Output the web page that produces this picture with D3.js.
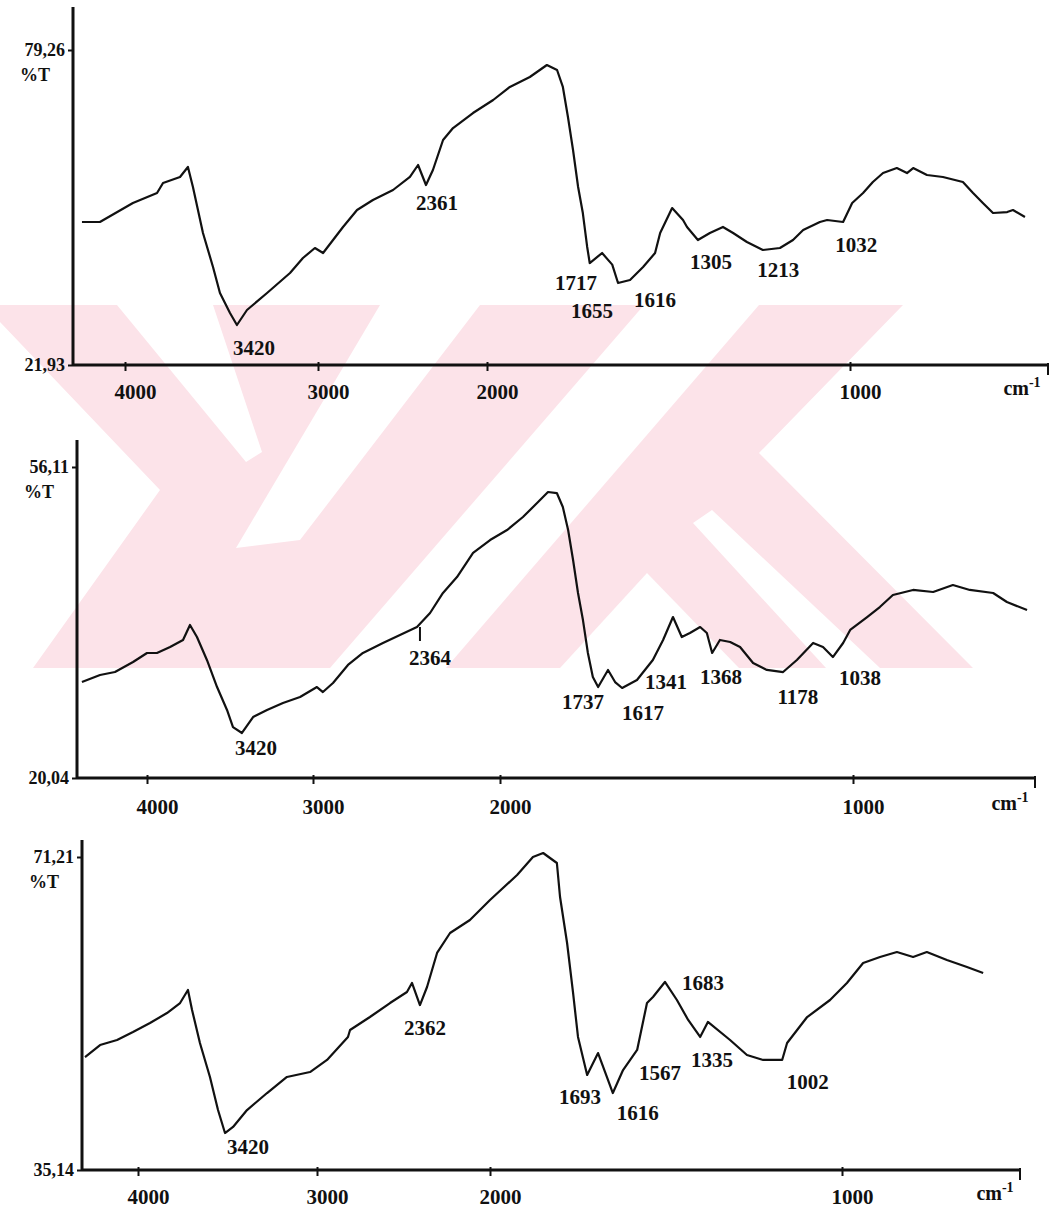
<!DOCTYPE html>
<html>
<head>
<meta charset="utf-8">
<script src="https://cdn.jsdelivr.net/npm/d3@7"></script>
<style>
  body { margin: 0; background: #fff; }
  text { font-family: "Liberation Serif", "DejaVu Serif", serif; font-weight: bold; fill: #111; }
</style>
</head>
<body>
<script>
// ---- data (wavenumber cm-1, %T) ----
const tickValues = [4000, 3000, 2000, 1000];

// spectrum 1
const topWn = [4223, 4130, 3959, 3834, 3803, 3715, 3674, 3648, 3596, 3544, 3508, 3456, 3420, 3368, 3264, 3145, 3078, 3016,
  2970, 2911, 2852, 2769, 2675, 2556, 2456, 2408, 2361, 2320, 2260, 2201, 2083, 1983, 1937, 1882, 1835, 1807, 1791, 1777,
  1763, 1749, 1736, 1724, 1717, 1683, 1655, 1639, 1606, 1570, 1537, 1523, 1490, 1460, 1449, 1419, 1386, 1350, 1322, 1284,
  1240, 1193, 1157, 1129, 1083, 1063, 1019, 994, 964, 937, 909, 871, 843, 826, 788, 744, 689, 661, 634, 606, 567, 551, 518];
const topT = [47.96, 47.96, 51.41, 53.23, 55.05, 56.15, 57.97, 54.33, 45.95, 39.77, 35.03, 31.39, 29.21, 31.94, 35.03, 38.67, 41.40, 43.22,
  42.31, 44.68, 47.05, 50.14, 51.96, 53.78, 56.15, 58.33, 54.69, 57.42, 62.88, 65.06, 67.79, 70.16, 72.53, 74.35, 76.53, 75.62, 72.53, 67.07,
  61.06, 54.33, 49.59, 43.41, 40.49, 42.31, 40.20, 36.85, 37.40, 39.77, 42.31, 45.95, 50.50, 48.32, 47.05, 44.68, 45.95, 47.05, 45.95, 44.32,
  42.86, 43.22, 44.68, 46.50, 47.96, 48.32, 47.96, 51.41, 53.23, 55.24, 56.87, 57.78, 56.87, 57.78, 56.51, 56.15, 55.24, 53.23, 51.41, 49.59, 49.77, 50.14, 48.87];
const topRange = [21.93, 79.26];
const topPeaks = ["3420", "2361", "1717", "1655", "1616", "1305", "1213", "1032"];
const topPeakWn = [3332, 2296, 1755, 1711, 1537, 1383, 1198, 983];
const topPeakT = [25.02, 51.41, 36.85, 31.76, 33.76, 40.68, 39.22, 43.77];

// spectrum 2
const midWn = [4392, 4283, 4193, 4084, 4000, 3940, 3861, 3783, 3741, 3699, 3639, 3578, 3518, 3482, 3428, 3361, 3277, 3181, 3078,
  2979, 2947, 2893, 2813, 2733, 2626, 2535, 2444, 2374, 2305, 2230, 2144, 2053, 1980, 1935, 1895, 1864, 1839, 1822, 1807,
  1793, 1779, 1765, 1751, 1737, 1722, 1694, 1674, 1654, 1612, 1567, 1538, 1510, 1485, 1462, 1433, 1414, 1399, 1377, 1348,
  1320, 1283, 1244, 1198, 1159, 1113, 1085, 1057, 1028, 1008, 960, 924, 887, 830, 773, 717, 669, 603, 564, 507];
const midT = [31.17, 31.99, 32.33, 33.49, 34.54, 34.54, 35.23, 36.05, 37.79, 36.39, 33.73, 30.59, 27.93, 25.95, 25.26, 27.11, 27.93, 28.74, 29.43,
  30.59, 30.01, 31.06, 33.15, 34.54, 35.70, 36.63, 37.55, 39.18, 41.50, 43.35, 46.14, 47.64, 48.80, 50.31, 51.93, 53.21, 53.09, 51.47, 48.80,
  45.32, 41.50, 38.36, 34.54, 31.75, 30.59, 32.57, 31.17, 30.48, 31.41, 33.73, 36.05, 38.71, 36.39, 36.86, 37.55, 36.86, 34.54, 36.05, 35.81,
  35.23, 33.38, 32.57, 32.33, 33.73, 35.70, 35.23, 34.07, 35.70, 37.21, 38.71, 39.87, 41.27, 41.85, 41.61, 42.42, 41.85, 41.50, 40.45, 39.52];
const midRange = [20.04, 56.11];
const midPeaks = ["3420", "2364", "1737", "1617", "1341", "1368", "1178", "1038"];
const midPeakWn = [3343, 2374, 1765, 1595, 1530, 1374, 1156, 980];
const midPeakT = [23.52, 33.96, 28.85, 27.58, 31.17, 31.75, 29.43, 31.64];
const midMarkWn = 2428; // small stroke under the 2364 band

// spectrum 3
const botWn = [4296, 4212, 4117, 4028, 3933, 3838, 3765, 3721, 3698, 3654, 3598, 3553, 3514, 3469, 3391, 3279, 3168, 3039,
  2942, 2821, 2809, 2694, 2578, 2480, 2451, 2405, 2364, 2306, 2231, 2116, 2000, 1923, 1878, 1849, 1810, 1801, 1781, 1764,
  1750, 1724, 1693, 1668, 1651, 1622, 1582, 1554, 1537, 1503, 1469, 1437, 1403, 1381, 1318, 1270, 1224, 1170, 1156, 1099,
  1034, 986, 940, 892, 844, 798, 759, 702, 645, 599];
const botT = [48.16, 49.54, 50.12, 51.04, 52.08, 53.23, 54.38, 55.88, 53.58, 49.78, 45.86, 42.05, 39.40, 40.10, 42.05, 44.01, 45.86, 46.43,
  47.82, 50.47, 51.27, 52.77, 54.38, 55.65, 56.69, 54.15, 56.23, 60.15, 62.45, 63.95, 66.25, 69.14, 71.21, 71.67, 70.52, 66.60, 61.30, 55.54,
  50.47, 46.09, 48.62, 45.86, 44.01, 46.66, 48.97, 54.38, 55.08, 56.81, 54.73, 52.43, 50.47, 52.20, 50.12, 48.39, 47.82, 47.82, 49.78, 52.77,
  54.73, 56.69, 59.00, 59.69, 60.26, 59.69, 60.26, 59.34, 58.53, 57.84];
const botRange = [35.14, 71.21];
const botPeaks = ["3420", "2362", "1693", "1616", "1567", "1683", "1335", "1002"];
const botPeakWn = [3385, 2376, 1744, 1580, 1517, 1395, 1369, 1097];
const botPeakT = [37.79, 51.50, 43.55, 41.71, 46.32, 56.69, 47.82, 45.28];

// ---- layout of the three scanned panels ----
const W = 1056, H = 1210;
const panels = [
  { wn: topWn, t: topT, range: topRange, peaks: topPeaks, pwn: topPeakWn, pt: topPeakT,
    left: 73, right: 1048, top: 7, bottom: 365, yTop: 50, ticks: [125, 318, 487, 850], tickLabelY: 392, cmX: 1022 },
  { wn: midWn, t: midT, range: midRange, peaks: midPeaks, pwn: midPeakWn, pt: midPeakT, mark: midMarkWn,
    left: 77, right: 1035, top: 440, bottom: 778, yTop: 467, ticks: [147, 313, 500, 853], tickLabelY: 807, cmX: 1010 },
  { wn: botWn, t: botT, range: botRange, peaks: botPeaks, pwn: botPeakWn, pt: botPeakT,
    left: 82, right: 1020, top: 840, bottom: 1170, yTop: 857, ticks: [138, 317, 490, 842], tickLabelY: 1197, cmX: 995 }
];

const svg = d3.select("body").append("svg")
  .attr("width", W)
  .attr("height", H);

// background watermark (pale pink logo behind the middle of the page)
const watermark = [
  [[0, 305], [903, 305], [759, 453], [973, 668], [33, 668], [160, 490], [0, 322]]
];
const watermarkGaps = [
  [[117, 305], [213, 305], [262, 452], [246, 462]],
  [[380, 305], [480, 305], [300, 540], [236, 548]],
  [[644, 305], [759, 305], [446, 668], [330, 668]],
  [[647, 573], [739, 668], [560, 668]],
  [[693, 523], [712, 510], [880, 668], [826, 668]]
];
const wm = svg.append("g");
wm.selectAll(".wm").data(watermark).enter().append("polygon")
  .attr("points", d => d.join(" "))
  .attr("fill", "#fce3e9");
wm.selectAll(".gap").data(watermarkGaps).enter().append("polygon")
  .attr("points", d => d.join(" "))
  .attr("fill", "#fff");

const comma = d3.formatLocale({ decimal: ",", thousands: ".", grouping: [3], currency: ["", ""] }).format(".2f");

panels.forEach(p => {
  const g = svg.append("g");

  // x: the instrument halves the scale above 2000 cm-1, so use a piecewise scale
  const x = d3.scaleLinear().domain(tickValues).range(p.ticks);
  const y = d3.scaleLinear().domain(p.range).range([p.bottom, p.yTop]);

  // axes
  g.append("line")
    .attr("x1", p.left).attr("x2", p.left)
    .attr("y1", p.top).attr("y2", p.bottom)
    .attr("stroke", "#111").attr("stroke-width", 3);
  g.append("line")
    .attr("x1", p.left).attr("x2", p.right)
    .attr("y1", p.bottom).attr("y2", p.bottom)
    .attr("stroke", "#111").attr("stroke-width", 3);
  g.append("line")
    .attr("x1", p.right).attr("x2", p.right)
    .attr("y1", p.bottom - 2).attr("y2", p.bottom + 10)
    .attr("stroke", "#111").attr("stroke-width", 2);

  const xAxis = g.append("g")
    .attr("transform", "translate(0," + (p.bottom - 3) + ")")
    .call(d3.axisBottom(x).tickValues(tickValues).tickSize(9).tickFormat(d3.format("d")));
  xAxis.select(".domain").remove();
  xAxis.selectAll(".tick line").attr("stroke", "#111").attr("stroke-width", 2);
  // the scanned labels sit a little to the right of their ticks
  xAxis.selectAll(".tick text")
    .attr("x", 10)
    .attr("y", p.tickLabelY - p.bottom + 3)
    .attr("dy", "0.35em")
    .style("font-size", "21px")
    .style("font-family", "Liberation Serif")
    .style("font-weight", "bold")
    .attr("fill", "#111");

  const yAxis = g.append("g")
    .attr("transform", "translate(" + p.left + ",0)")
    .call(d3.axisLeft(y).tickValues(p.range).tickSize(5).tickPadding(3).tickFormat(comma));
  yAxis.select(".domain").remove();
  yAxis.selectAll(".tick line").attr("stroke", "#111").attr("stroke-width", 2);
  yAxis.selectAll(".tick text")
    .style("font-size", "18px")
    .style("font-family", "Liberation Serif")
    .style("font-weight", "bold")
    .attr("fill", "#111");

  g.append("text")
    .attr("x", p.left - 38).attr("y", p.yTop + 31)
    .attr("text-anchor", "middle")
    .style("font-size", "18px")
    .text("%T");

  const cm = g.append("text")
    .attr("x", p.cmX).attr("y", p.tickLabelY - 4)
    .attr("text-anchor", "middle")
    .attr("dy", "0.35em")
    .style("font-size", "20px")
    .text("cm");
  cm.append("tspan").attr("dy", "-0.6em").style("font-size", "14px").text("-1");

  // spectrum
  const pts = p.wn.map((w, i) => ({ wn: w, t: p.t[i] }));
  const line = d3.line()
    .x(d => x(d.wn))
    .y(d => y(d.t));
  g.append("path")
    .datum(pts)
    .attr("d", line)
    .attr("fill", "none")
    .attr("stroke", "#111")
    .attr("stroke-width", 2.2)
    .attr("stroke-linejoin", "round");

  // band labels
  g.selectAll(".peak").data(p.peaks).enter().append("text")
    .attr("x", (d, i) => x(p.pwn[i]))
    .attr("y", (d, i) => y(p.pt[i]))
    .attr("text-anchor", "middle")
    .attr("dy", "0.35em")
    .style("font-size", "21px")
    .text(d => d);

  if (p.mark) {
    const i = d3.minIndex(p.wn, w => Math.abs(w - p.mark));
    g.append("line")
      .attr("x1", x(p.mark)).attr("x2", x(p.mark))
      .attr("y1", y(p.t[i])).attr("y2", y(p.t[i]) + 14)
      .attr("stroke", "#111").attr("stroke-width", 2);
  }
});
</script>
</body>
</html>
